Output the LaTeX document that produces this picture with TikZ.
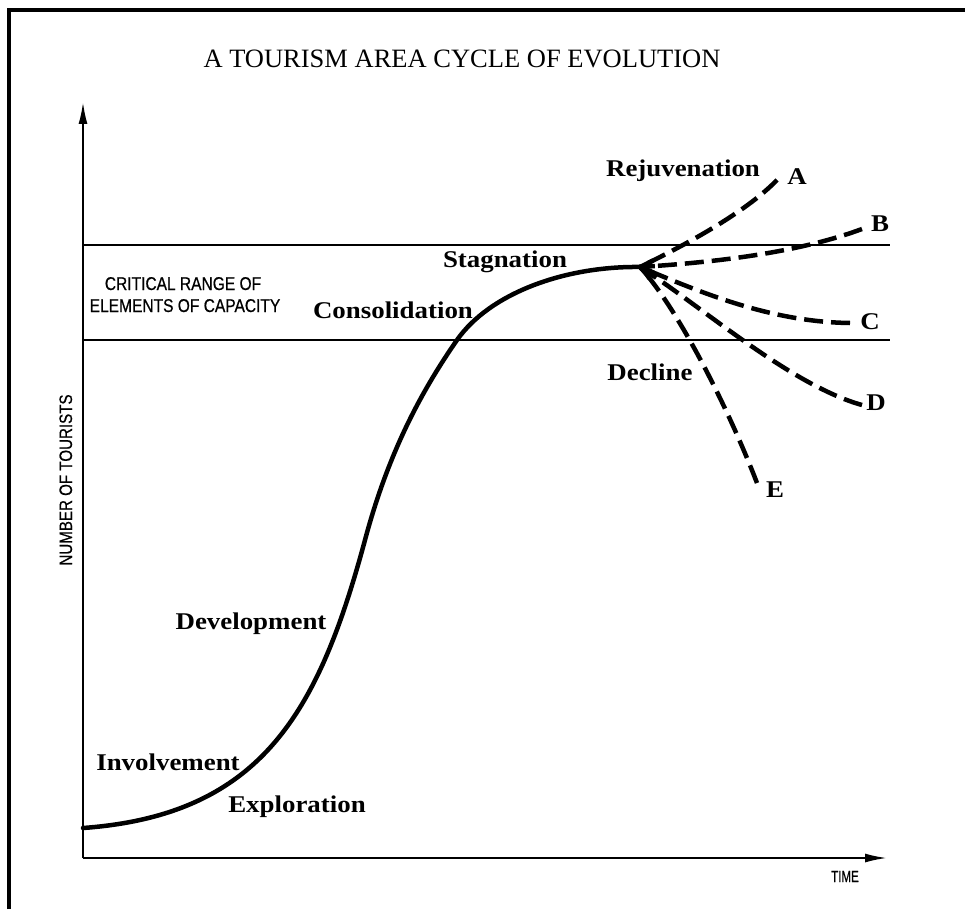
\documentclass[tikz,border=0pt]{standalone}
\usepackage{fontspec}
\setmainfont{Liberation Serif}
\newfontfamily\labfont[FakeStretch=1.12]{Liberation Serif}
\newfontfamily\capfont[FakeStretch=0.84,FakeBold=0.6]{Liberation Sans}
\newfontfamily\capfontn[FakeStretch=0.72,FakeBold=0.6]{Liberation Sans}
\usetikzlibrary{arrows.meta}
\begin{document}
\begin{tikzpicture}[x=1pt,y=-1pt,
  lab/.style={font=\labfont\bfseries\fontsize{24}{24}\selectfont, inner sep=0pt, anchor=base},
  caps/.style={font=\capfont\fontsize{18.5}{18.5}\selectfont, inner sep=0pt, anchor=base},
  axisline/.style={line width=2pt, -{Latex[length=22pt,width=9pt]}},
  rangeline/.style={line width=1.5pt},
  curve/.style={line width=4.5pt, line cap=round, line join=round},
  branch/.style={line width=4.5pt, dash pattern=on 19pt off 8pt},
  branchroot/.style={line width=4.5pt},
  frameline/.style={line width=4pt}]
\useasboundingbox (0,0) rectangle (965,909);
% frame
\coordinate (f1) at (9,909);
\coordinate (f2) at (9,10);
\coordinate (f3) at (965,10);
\draw[frameline] (f1) -- (f2) -- (f3);
% title
\node[font=\fontsize{26.5}{26.5}\selectfont, inner sep=0pt, anchor=base] (title) at (462,68) {A TOURISM AREA CYCLE OF EVOLUTION};
% axes
\coordinate (O) at (83,858);
\coordinate (ytip) at (83,102);
\coordinate (xtip) at (887,858);
\draw[axisline] (O) -- (ytip);
\draw[axisline] (O) -- (xtip);
% critical range lines
\coordinate (r1a) at (83,245);
\coordinate (r1b) at (890,245);
\coordinate (r2a) at (83,340);
\coordinate (r2b) at (890,340);
\draw[rangeline] (r1a) -- (r1b);
\draw[rangeline] (r2a) -- (r2b);
% axis labels
\node[caps, font=\capfont\fontsize{18}{18}\selectfont, rotate=90] (ylab) at (72,480) {NUMBER OF TOURISTS};
\node[caps, font=\capfontn\fontsize{16}{16}\selectfont] (xlab) at (845,882) {TIME};
\node[caps] (crit1) at (183,290) {CRITICAL RANGE OF};
\node[caps] (crit2) at (185,312) {ELEMENTS OF CAPACITY};
% main curve
\coordinate (start) at (83,828);
\coordinate (infl) at (365,540);
\coordinate (c3) at (457,340);
\coordinate (bp) at (640,267);
\draw[curve] (start) .. controls (263,815) and (319,710) .. (infl)
  .. controls (389,450) and (423,389) .. (c3)
  .. controls (490,293) and (565,266) .. (bp);
% branches (drawn from free end back to the branch point)
\coordinate (eA) at (777,180);
\coordinate (eB) at (862,229);
\coordinate (eC) at (850,323);
\coordinate (eD) at (862,405);
\coordinate (eE) at (757,483);
\draw[branch] (eA) .. controls (745,213) and (685,245) .. (bp);
\draw[branch] (eB) .. controls (800,252) and (720,262) .. (bp);
\draw[branch] (eC) .. controls (770,322) and (700,292) .. (bp);
\draw[branch] (eD) .. controls (790,385) and (700,305) .. (bp);
\draw[branch] (eE) .. controls (725,400) and (675,305) .. (bp);
% solid roots of the branches at the branch point
\begin{scope}
\clip (bp) circle (15pt);
\draw[branchroot] (eA) .. controls (745,213) and (685,245) .. (bp);
\draw[branchroot] (eB) .. controls (800,252) and (720,262) .. (bp);
\draw[branchroot] (eC) .. controls (770,322) and (700,292) .. (bp);
\draw[branchroot] (eD) .. controls (790,385) and (700,305) .. (bp);
\draw[branchroot] (eE) .. controls (725,400) and (675,305) .. (bp);
\end{scope}
% stage labels
\node[lab] (rej) at (683,177) {Rejuvenation};
\node[lab] (stag) at (505,267) {Stagnation};
\node[lab] (cons) at (393,318) {Consolidation};
\node[lab] (decl) at (650,380) {Decline};
\node[lab] (dev) at (251,629) {Development};
\node[lab] (inv) at (168,770) {Involvement};
\node[lab] (expl) at (297,812) {Exploration};
\node[lab] (lA) at (797,185) {A};
\node[lab] (lB) at (880,232) {B};
\node[lab] (lC) at (870,329) {C};
\node[lab] (lD) at (876,410) {D};
\node[lab] (lE) at (775,497) {E};
\end{tikzpicture}
\end{document}
